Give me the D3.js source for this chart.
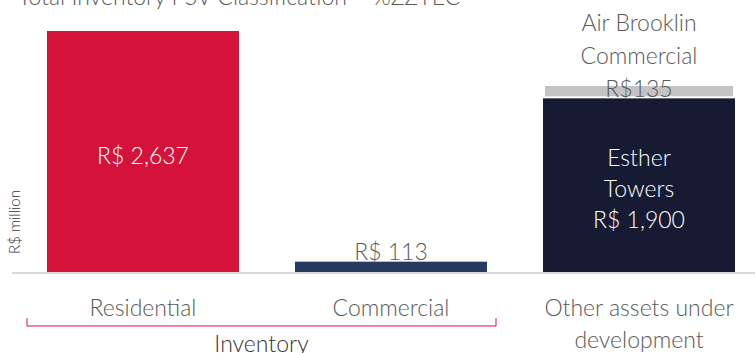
<!DOCTYPE html>
<html>
<head>
<meta charset="utf-8">
<script src="https://cdn.jsdelivr.net/npm/d3@7"></script>
<style>
  html, body { margin: 0; padding: 0; background: #fff; }
  svg { display: block; font-family: Lato, "Open Sans", sans-serif; font-weight: 300; }
</style>
</head>
<body>
<svg id="chart" width="755" height="353"></svg>
<script>
// Inventory PSV by asset group (R$ million)
const categories = ["Residential", "Commercial", "Other assets under development"];
const categoryLines = [["Residential"], ["Commercial"], ["Other assets under", "development"]];
const baseValues = [2637, 113, 1900];
const baseLabels = [["R$ 2,637"], ["R$ 113"], ["Esther", "Towers", "R$ 1,900"]];
const stackedValues = [0, 0, 135];
const stackedLabels = [null, null, ["Air Brooklin", "Commercial", "R$135"]];
const baseColors = ["#d4123a", "#243a5e", "#161b33"];
const stackColor = "#c3c3c3";
const title = "Total Inventory PSV Classification – %ZZYEC";
const groupLabel = "Inventory";
const yTitle = "R$ million";

const svg = d3.select("#chart");
const textColor = "#595959";
const fs = 23;

const x = d3.scaleBand()
  .domain(categories)
  .range([19, 763])
  .paddingInner(56 / 248)
  .paddingOuter(28 / 248);

const y = d3.scaleLinear().domain([0, 2637]).range([272, 31]);

// Title (partly above the frame)
svg.append("text")
  .attr("x", 18).attr("y", 5)
  .attr("font-size", 23).attr("fill", textColor)
  .text(title);

// Base bars
svg.selectAll("rect.base")
  .data(categories)
  .join("rect")
  .attr("class", "base")
  .attr("x", d => x(d))
  .attr("width", x.bandwidth())
  .attr("y", (d, i) => y(baseValues[i]))
  .attr("height", (d, i) => y(0) - y(baseValues[i]))
  .attr("fill", (d, i) => baseColors[i]);

// Stacked segment on top, separated by a thin white gap
svg.selectAll("rect.stack")
  .data(categories.filter((d, i) => stackedValues[i] > 0))
  .join("rect")
  .attr("class", "stack")
  .attr("x", d => x(d) + 2)
  .attr("width", x.bandwidth() - 4)
  .attr("y", d => { const i = categories.indexOf(d); return y(baseValues[i] + stackedValues[i]); })
  .attr("height", d => { const i = categories.indexOf(d); return y(baseValues[i]) - y(baseValues[i] + stackedValues[i]) - 2; })
  .attr("fill", stackColor);

// Baseline
svg.append("line")
  .attr("x1", 12).attr("x2", 755)
  .attr("y1", y(0) + 1).attr("y2", y(0) + 1)
  .attr("stroke", "#d9d9d9").attr("stroke-width", 2);

// Value labels
const lineH = 31;
categories.forEach((c, i) => {
  const cx = x(c) + x.bandwidth() / 2;
  const lines = baseLabels[i];
  const barH = y(0) - y(baseValues[i]);
  const inside = barH > 60;
  const cy = inside
    ? y(baseValues[i]) + barH / 2 + 4
    : y(baseValues[i]) - 10;
  lines.forEach((t, k) => {
    svg.append("text")
      .attr("x", cx)
      .attr("y", cy + (k - (lines.length - 1) / 2) * lineH)
      .attr("dy", "0.35em")
      .attr("text-anchor", "middle")
      .attr("font-size", fs)
      .attr("fill", inside ? "#ffffff" : textColor)
      .text(t);
  });
  if (stackedLabels[i]) {
    const sl = stackedLabels[i];
    const top = y(baseValues[i] + stackedValues[i]);
    sl.forEach((t, k) => {
      svg.append("text")
        .attr("x", cx)
        .attr("y", top + 3 - (sl.length - 1 - k) * 33)
        .attr("dy", "0.35em")
        .attr("text-anchor", "middle")
        .attr("font-size", fs)
        .attr("fill", textColor)
        .text(t);
    });
  }
});

// Category labels
categories.forEach((c, i) => {
  const cx = x(c) + x.bandwidth() / 2;
  categoryLines[i].forEach((t, k) => {
    svg.append("text")
      .attr("x", cx)
      .attr("y", 308 + k * 32)
      .attr("dy", "0.35em")
      .attr("text-anchor", "middle")
      .attr("font-size", fs)
      .attr("fill", textColor)
      .text(t);
  });
});

// Bracket grouping the first two categories
const bx0 = 27, bx1 = 496;
svg.append("path")
  .attr("d", `M${bx0},318 V326 H${bx1} V318`)
  .attr("fill", "none")
  .attr("stroke", "#d4123a")
  .attr("stroke-width", 1);
svg.append("text")
  .attr("x", (bx0 + bx1) / 2)
  .attr("y", 344)
  .attr("dy", "0.35em")
  .attr("text-anchor", "middle")
  .attr("font-size", fs)
  .attr("fill", "#333333")
  .text(groupLabel);

// Y-axis title
svg.append("text")
  .attr("transform", "translate(15,222) rotate(-90)")
  .attr("dy", "0.35em")
  .attr("text-anchor", "middle")
  .attr("font-size", 15)
  .attr("fill", "#333333")
  .text(yTitle);
</script>
</body>
</html>
